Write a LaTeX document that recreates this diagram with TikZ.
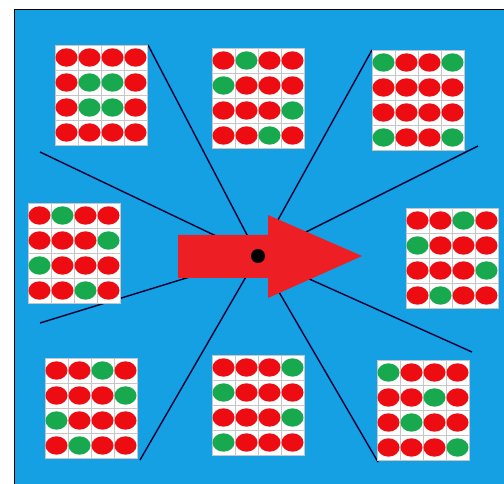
\documentclass[tikz,border=0pt]{standalone}
\definecolor{bg}{RGB}{20,160,226}
\definecolor{R}{RGB}{236,12,18}
\definecolor{G}{RGB}{24,168,78}
\definecolor{ar}{RGB}{237,30,36}
\tikzset{
  gridbox/.style={rectangle, anchor=north west, minimum width=92pt, minimum height=100pt, inner sep=0pt, fill=white, draw=gray!45, line width=0.5pt},
  cellline/.style={gray!45, line width=0.5pt},
  ray/.style={black!80!blue, line width=1.4pt},
  bigarrow/.style={fill=ar, draw=none},
}
\newcommand\dotgrid[4]{%
  \node[gridbox] (#1) at (#2,#3) {};
  \foreach \k in {1,2,3} {
    \draw[cellline] (#2+23*\k,#3) -- (#2+23*\k,#3+100);
    \draw[cellline] (#2,#3+25*\k) -- (#2+92,#3+25*\k);
  }
  \foreach \c [count=\i from 0] in {#4} {
    \pgfmathtruncatemacro\row{\i/4}
    \pgfmathtruncatemacro\col{mod(\i,4)}
    \fill[fill=\c] (#2+11.5+23*\col,#3+12.5+25*\row) ellipse (11 and 9.2);
  }
}
\begin{document}
\begin{tikzpicture}[x=1pt,y=-1pt]
\useasboundingbox (0,0) rectangle (504,484);
\fill[white] (0,0) rectangle (504,484);
\fill[bg] (14,10) rectangle (504,484);
\draw[black, line width=1pt] (14,484) -- (14,10) -- (504,10);
\coordinate (c) at (258,256);
\coordinate (e1) at (148,45);
\coordinate (e2) at (40,152);
\coordinate (e3) at (372,50);
\coordinate (e4) at (478,146);
\coordinate (e5) at (40,323);
\coordinate (e6) at (140,460);
\coordinate (e7) at (378,462);
\coordinate (e8) at (472,352);
\foreach \e in {e1,e2,e3,e4,e5,e6,e7,e8} \draw[ray] (c) -- (\e);
\dotgrid{g1}{55}{45}{R,R,R,R, R,G,G,R, R,G,G,R, R,R,R,R}
\dotgrid{g2}{212}{48}{R,G,R,R, G,R,R,R, R,R,R,G, R,R,G,R}
\dotgrid{g3}{372}{50}{G,R,R,G, R,R,R,R, R,R,R,R, G,R,R,G}
\dotgrid{g4}{28}{203}{R,G,R,R, R,R,R,G, G,R,R,R, R,R,G,R}
\dotgrid{g5}{406}{208}{R,R,G,R, G,R,R,R, R,R,R,G, R,G,R,R}
\dotgrid{g6}{45}{358}{R,R,G,R, R,R,R,G, G,R,R,R, R,G,R,R}
\dotgrid{g7}{212}{355}{R,R,R,G, G,R,R,R, R,R,R,G, G,R,R,R}
\dotgrid{g8}{377}{360}{G,R,R,R, R,R,G,R, R,G,R,R, R,R,R,G}
\fill[bigarrow] (178,235) -- (268,235) -- (268,215) -- (362,256) -- (268,298) -- (268,278) -- (178,278) -- cycle;
\node[circle, fill=black, minimum size=14pt, inner sep=0pt] (dot) at (c) {};
\end{tikzpicture}
\end{document}
